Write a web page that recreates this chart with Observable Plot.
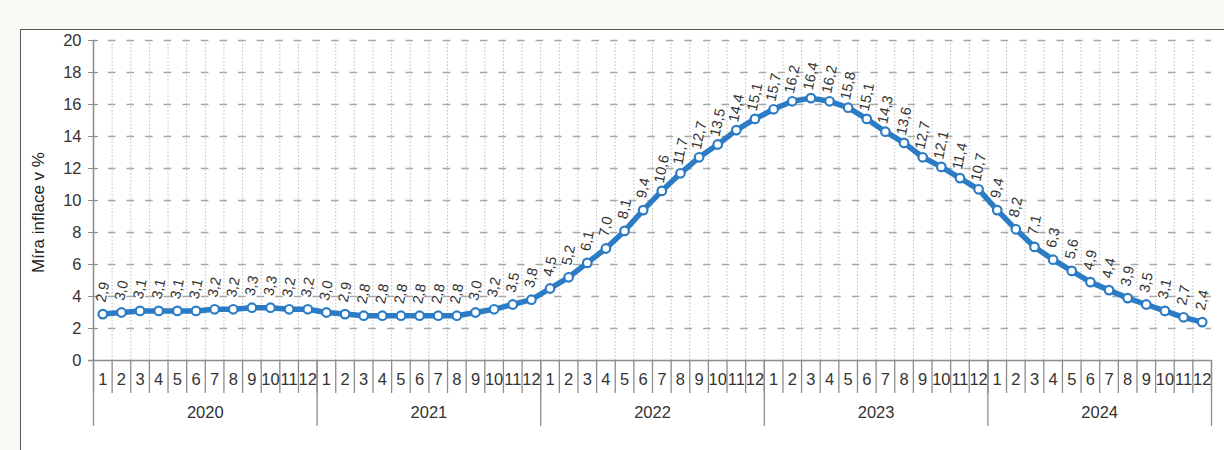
<!DOCTYPE html>
<html>
<head>
<meta charset="utf-8">
<script src="https://cdn.jsdelivr.net/npm/d3@7"></script>
<script src="https://cdn.jsdelivr.net/npm/@observablehq/plot@0.6"></script>
<style>
  html, body { margin: 0; padding: 0; background: #f8f8f5; overflow: hidden; }
  #wrap { position: relative; width: 1224px; height: 450px; }
  #box { position: absolute; left: 20px; top: 29px; width: 1400px; height: 600px;
         border: 1.5px solid #5a5a5a; background: #ffffff; }
  #chart { position: absolute; left: 0; top: 0; }
</style>
</head>
<body>
<div id="wrap"><div id="box"></div><div id="chart"></div></div>
<script>
const years = [2020, 2021, 2022, 2023, 2024];
const monthLabels = ["1","2","3","4","5","6","7","8","9","10","11","12"];
const infl2020 = [2.9, 3.0, 3.1, 3.1, 3.1, 3.1, 3.2, 3.2, 3.3, 3.3, 3.2, 3.2];
const infl2021 = [3.0, 2.9, 2.8, 2.8, 2.8, 2.8, 2.8, 2.8, 3.0, 3.2, 3.5, 3.8];
const infl2022 = [4.5, 5.2, 6.1, 7.0, 8.1, 9.4, 10.6, 11.7, 12.7, 13.5, 14.4, 15.1];
const infl2023 = [15.7, 16.2, 16.4, 16.2, 15.8, 15.1, 14.3, 13.6, 12.7, 12.1, 11.4, 10.7];
const infl2024 = [9.4, 8.2, 7.1, 6.3, 5.6, 4.9, 4.4, 3.9, 3.5, 3.1, 2.7, 2.4];
const yTicks = [0, 2, 4, 6, 8, 10, 12, 14, 16, 18, 20];
const yTitle = "Míra inflace v %";

const series = [infl2020, infl2021, infl2022, infl2023, infl2024];
const nMonths = years.length * monthLabels.length;
const data = years.flatMap((yr, yi) => series[yi].map((v, mi) => ({
  idx: yi * monthLabels.length + mi, year: yr, month: monthLabels[mi], v
})));
const fmt = v => v.toFixed(1).replace(".", ",");
const blue = "#2c7cc5";
const xc = d => d.idx + 0.5;

const monthCenters = d3.range(nMonths).map(i => i + 0.5);
const bandEdges = d3.range(0, nMonths + 1);
const yearEdges = d3.range(0, years.length + 1).map(i => i * monthLabels.length);
const yearCenters = years.map((y, i) => i * monthLabels.length + monthLabels.length / 2);

const chart = Plot.plot({
  width: 1224,
  height: 450,
  marginLeft: 93,
  marginRight: 13,
  marginTop: 40,
  marginBottom: 90,
  style: { fontFamily: "'Liberation Sans', Arial, sans-serif", fontSize: "16.5px", color: "#333", background: "transparent", overflow: "visible" },
  x: { domain: [0, nMonths], label: null },
  y: { domain: [0, 20], label: null },
  marks: [
    // grid
    Plot.ruleX(bandEdges.slice(1, -1), { stroke: "#bdbdbd", strokeWidth: 1, strokeDasharray: "1.5,2" }),
    Plot.ruleY(yTicks.filter(d => d > 0), { stroke: "#a8a8a8", strokeWidth: 1.3, strokeDasharray: "7.6,11", strokeDashoffset: 3.8 }),
    // axes lines
    Plot.ruleX([0], { stroke: "#8c8c8c", strokeWidth: 1.5 }),
    Plot.ruleY([0], { stroke: "#8c8c8c", strokeWidth: 1.5, insetLeft: -5 }),
    Plot.axisY(yTicks, { anchor: "left", label: null, tickSize: 10, dx: 5, tickPadding: 7, stroke: "#8c8c8c", fill: "#333", tickFormat: d => String(d) }),
    // x axis: separators and labels
    Plot.axisX(bandEdges, { label: null, tickSize: 33, stroke: "#8c8c8c", strokeWidth: 1.3, tickFormat: () => "" }),
    Plot.axisX(yearEdges, { label: null, tickSize: 66, stroke: "#8c8c8c", strokeWidth: 1.3, tickFormat: () => "" }),
    Plot.axisX(monthCenters, { label: null, tickSize: 0, tickPadding: 13, fill: "#333", tickFormat: d => monthLabels[Math.floor(d) % monthLabels.length] }),
    Plot.axisX(yearCenters, { label: null, tickSize: 0, tickPadding: 46, fill: "#333", tickFormat: d => String(years[Math.floor(d / monthLabels.length)]) }),
    // y title
    Plot.text([yTitle], { frameAnchor: "left", textAnchor: "middle", dx: -55, dy: 12, rotate: -90, fontSize: 17, fill: "#222" }),
    // data
    Plot.line(data, { x: xc, y: "v", stroke: blue, strokeWidth: 5.5 }),
    Plot.dot(data, { x: xc, y: "v", r: 4.3, fill: "white", stroke: blue, strokeWidth: 2.2 }),
    Plot.text(data, { x: xc, y: "v", text: d => fmt(d.v), rotate: -78, textAnchor: "middle", lineAnchor: "middle", dx: 0, dy: -22, fontSize: 14.5, fill: "#333" })
  ]
});
document.getElementById("chart").appendChild(chart);
</script>
</body>
</html>
